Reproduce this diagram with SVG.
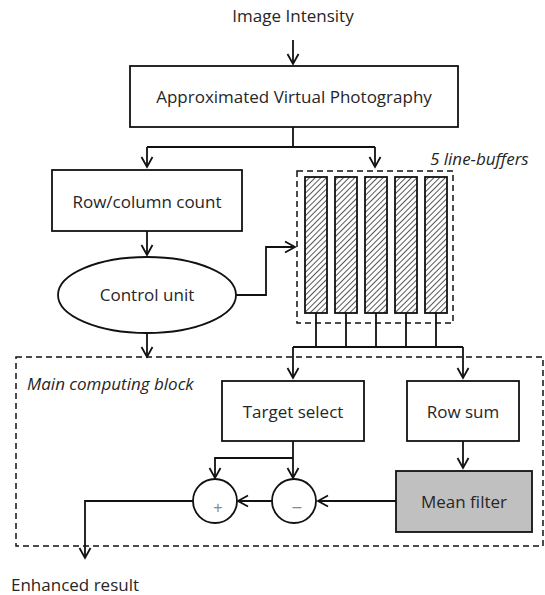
<svg xmlns="http://www.w3.org/2000/svg" width="545" height="595" viewBox="0 0 545 595">
<defs>
<marker id="arr" markerUnits="userSpaceOnUse" markerWidth="14" markerHeight="14" refX="11" refY="6.5" orient="auto" viewBox="0 0 14 13">
<path d="M1,1 L11,6.5 L1,12" fill="none" stroke="#111" stroke-width="1.8"/>
</marker>
<pattern id="hatch" patternUnits="userSpaceOnUse" width="4" height="4" patternTransform="rotate(45)">
<rect width="4" height="4" fill="#fff"/>
<line x1="0" y1="0" x2="0" y2="4" stroke="#444" stroke-width="1.8"/>
</pattern>
</defs>
<style>
.t{font-family:"Open Sans","Liberation Sans",sans-serif;font-size:17px;fill:#262626}
.i{font-family:"Open Sans","Liberation Sans",sans-serif;font-size:17px;font-style:italic;fill:#262626}
.box{fill:#fff;stroke:#111;stroke-width:1.8}
.dash{fill:none;stroke:#111;stroke-width:1.5;stroke-dasharray:6,4}
.ln{fill:none;stroke:#111;stroke-width:1.8}
.ar{fill:none;stroke:#111;stroke-width:1.8;marker-end:url(#arr)}
.sym{font-family:"Liberation Sans",sans-serif;font-size:16px;fill:#888}
</style>
<text class="t" x="293" y="22" text-anchor="middle">Image Intensity</text>
<g id="main-block">
<rect class="dash" x="16" y="357" width="527" height="189"/>
<text class="i" x="27" y="390">Main computing block</text>
</g>
<g id="line-buffers">
<rect class="dash" x="297" y="171" width="156" height="152"/>
<text class="i" x="430" y="165">5 line-buffers</text>
<rect x="305" y="177" width="22" height="136" fill="url(#hatch)" stroke="#111" stroke-width="1.8"/>
<rect x="335" y="177" width="22" height="136" fill="url(#hatch)" stroke="#111" stroke-width="1.8"/>
<rect x="365" y="177" width="22" height="136" fill="url(#hatch)" stroke="#111" stroke-width="1.8"/>
<rect x="395" y="177" width="22" height="136" fill="url(#hatch)" stroke="#111" stroke-width="1.8"/>
<rect x="425" y="177" width="22" height="136" fill="url(#hatch)" stroke="#111" stroke-width="1.8"/>
</g>
<g id="avp">
<rect class="box" x="130" y="66" width="328" height="61"/>
<text class="t" x="294" y="103" text-anchor="middle">Approximated Virtual Photography</text>
</g>
<g id="rowcol">
<rect class="box" x="52" y="170" width="190" height="61"/>
<text class="t" x="147" y="208" text-anchor="middle">Row/column count</text>
</g>
<g id="control">
<ellipse class="box" cx="147" cy="295" rx="89" ry="38"/>
<text class="t" x="147" y="301" text-anchor="middle">Control unit</text>
</g>
<g id="target">
<rect class="box" x="222" y="381" width="142" height="60"/>
<text class="t" x="293" y="418" text-anchor="middle">Target select</text>
</g>
<g id="rowsum">
<rect class="box" x="407" y="381" width="112" height="60"/>
<text class="t" x="463" y="418" text-anchor="middle">Row sum</text>
</g>
<g id="mean">
<rect x="396" y="471" width="136" height="61" fill="#c0c0c0" stroke="#111" stroke-width="1.8"/>
<text class="t" x="464" y="508" text-anchor="middle">Mean filter</text>
</g>
<g id="plus">
<circle class="box" cx="215" cy="501" r="22"/>
<text class="sym" x="218" y="513" text-anchor="middle">+</text>
</g>
<g id="minus">
<circle class="box" cx="294" cy="501" r="22"/>
<text class="sym" x="297" y="512" text-anchor="middle">–</text>
</g>
<text class="t" x="11" y="591">Enhanced result</text>
<g id="connectors">
<path class="ar" d="M293,40 V64"/>
<path class="ln" d="M293,127 V147 M147,147 H375"/>
<path class="ar" d="M147,147 V167"/>
<path class="ar" d="M375,147 V167"/>
<path class="ar" d="M147,231 V255"/>
<path class="ar" d="M236,295 H266 V247 H295"/>
<path class="ar" d="M147,333 V357"/>
<path class="ln" d="M316,313 V347 M346,313 V347 M376,313 V347 M406,313 V347 M436,313 V347 M293,347 H463"/>
<path class="ar" d="M293,347 V378"/>
<path class="ar" d="M463,347 V378"/>
<path class="ar" d="M463,441 V468"/>
<path class="ar" d="M293,441 V478"/>
<path class="ar" d="M293,458 H215 V478"/>
<path class="ar" d="M396,501 H318"/>
<path class="ar" d="M272,501 H238"/>
<path class="ar" d="M193,501 H85 V558"/>
</g>
</svg>
